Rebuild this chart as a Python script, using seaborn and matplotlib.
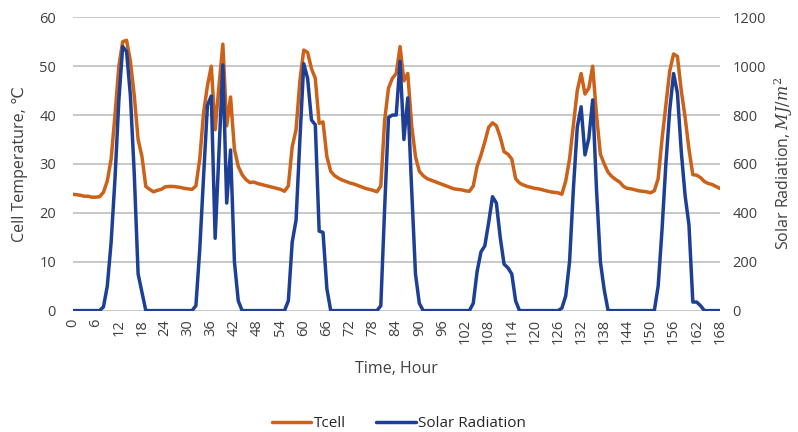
import pandas as pd
import matplotlib
matplotlib.use('Agg')
import matplotlib.pyplot as plt
import seaborn as sns

# Data: hourly values, hour 0..168
hours = list(range(169))
tcell = [
    23.8, 23.7, 23.6, 23.4, 23.4, 23.2, 23.2, 23.3, 24.2, 26.5,
    31.0, 40.0, 50.0, 55.0, 55.3, 51.0, 44.0, 35.0, 31.5, 25.4,
    24.8, 24.3, 24.6, 24.8, 25.3, 25.4, 25.4, 25.3, 25.2, 25.0,
    24.9, 24.8, 25.5, 31.0, 40.5, 46.0, 50.0, 37.0, 46.0, 54.5,
    37.8, 43.7, 33.0, 29.5, 27.8, 26.8, 26.2, 26.3, 26.0, 25.8,
    25.6, 25.4, 25.2, 25.0, 24.8, 24.4, 25.5, 33.5, 37.0, 47.0,
    53.3, 52.8, 49.5, 47.5, 38.3, 38.6, 31.5, 28.5, 27.6, 27.1,
    26.7, 26.4, 26.1, 25.9, 25.6, 25.3, 25.0, 24.8, 24.6, 24.3,
    25.5, 39.0, 45.5, 47.5, 48.5, 54.0, 47.0, 48.5, 38.0, 31.5,
    28.5, 27.6, 27.0, 26.7, 26.4, 26.1, 25.8, 25.5, 25.2, 24.9,
    24.8, 24.7, 24.5, 24.4, 25.5, 29.5, 31.8, 34.5, 37.5, 38.4,
    37.8, 35.5, 32.5, 32.0, 31.0, 27.0, 26.1, 25.7, 25.4, 25.2,
    25.0, 24.9, 24.7, 24.5, 24.3, 24.2, 24.1, 23.8, 26.5, 31.0,
    38.0, 45.0, 48.5, 44.3, 45.5, 50.0, 40.0, 32.0, 30.0, 28.3,
    27.4, 26.8, 26.3, 25.4, 25.0, 24.9, 24.7, 24.5, 24.4, 24.3,
    24.1, 24.5, 27.0, 35.0, 42.0, 49.0, 52.5, 52.0, 45.0, 39.5,
    33.0, 27.8, 27.7, 27.2, 26.4, 26.0, 25.8, 25.4, 25.0,
]
solar = [
    0, 0, 0, 0, 0, 0, 0, 0, 15, 100,
    280, 540, 860, 1080, 1060, 880, 560, 150, 75, 0,
    0, 0, 0, 0, 0, 0, 0, 0, 0, 0,
    0, 0, 20, 250, 550, 840, 878, 296, 650, 1005,
    440, 657, 200, 40, 0, 0, 0, 0, 0, 0,
    0, 0, 0, 0, 0, 0, 40, 280, 370, 700,
    1010, 950, 780, 760, 325, 320, 90, 0, 0, 0,
    0, 0, 0, 0, 0, 0, 0, 0, 0, 0,
    20, 420, 790, 800, 800, 1020, 700, 870, 500, 150,
    30, 0, 0, 0, 0, 0, 0, 0, 0, 0,
    0, 0, 0, 0, 30, 160, 240, 265, 360, 466,
    440, 300, 190, 175, 150, 40, 0, 0, 0, 0,
    0, 0, 0, 0, 0, 0, 0, 10, 60, 200,
    500, 750, 834, 637, 705, 862, 494, 200, 85, 0,
    0, 0, 0, 0, 0, 0, 0, 0, 0, 0,
    0, 0, 100, 330, 600, 820, 970, 890, 650, 470,
    350, 35, 35, 20, 0, 0, 0, 0, 0,
]
xtick_labels = [str(h) for h in range(0, 169, 6)]

df = pd.DataFrame({'Hour': hours, 'Tcell': tcell, 'Solar': solar})

sns.set_style('white')
plt.rcParams['font.family'] = ['Open Sans', 'DejaVu Sans']
plt.rcParams['mathtext.fontset'] = 'dejavuserif'

orange = '#CC6119'
blue = '#1E3F96'
text_col = '#404040'

fig, ax = plt.subplots(figsize=(7.98, 4.32), dpi=100)
fig.subplots_adjust(left=0.091, right=0.902, top=0.96, bottom=0.281)

sns.lineplot(data=df, x='Hour', y='Tcell', ax=ax, color=orange,
             linewidth=2.5, label='Tcell', legend=False)
ax2 = ax.twinx()
sns.lineplot(data=df, x='Hour', y='Solar', ax=ax2, color=blue,
             linewidth=2.5, label='Solar Radiation', legend=False)

ax.set_xlim(0, 168)
ax.set_ylim(0, 60)
ax2.set_ylim(0, 1200)
ax.set_yticks(range(0, 61, 10))
ax2.set_yticks(range(0, 1201, 200))
ax.set_xticks(range(0, 169, 6))
ax.set_xticklabels(xtick_labels, rotation=90, color=text_col)

ax.yaxis.grid(True, color='#C4C4C4', linewidth=1.3)
ax.set_axisbelow(True)
for a in (ax, ax2):
    for s in a.spines.values():
        s.set_visible(False)
    a.tick_params(length=0, labelsize=10.5, colors=text_col)
ax.tick_params(axis='y', pad=12)
ax2.tick_params(axis='y', pad=9)
ax.tick_params(axis='x', pad=6, labelsize=10.5)

ax.set_xlabel('Time, Hour', fontsize=11.5, color=text_col, labelpad=12)
ax.set_ylabel('Cell Temperature, \u2103', fontsize=11.5, color=text_col, labelpad=8)
ax2.set_ylabel(r'Solar Radiation, $MJ/m^2$', fontsize=11.5, color=text_col, labelpad=5)

h1, l1 = ax.get_legend_handles_labels()
h2, l2 = ax2.get_legend_handles_labels()
fig.legend(h1 + h2, l1 + l2, loc='lower center', ncol=2, frameon=False,
           bbox_to_anchor=(0.5, -0.03), handlelength=2.6, columnspacing=2.0,
           handletextpad=0.15, prop={'size': 11})

plt.savefig('out.png', dpi=100)
plt.close()
